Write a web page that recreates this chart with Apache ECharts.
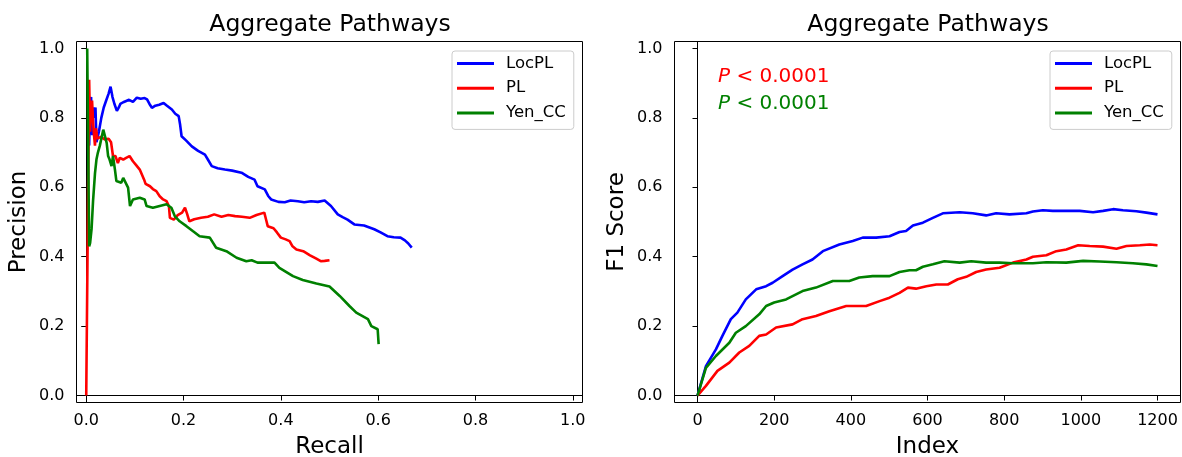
<!DOCTYPE html>
<html>
<head>
<meta charset="utf-8">
<script src="https://cdn.jsdelivr.net/npm/echarts@6/dist/echarts.min.js"></script>
<style>
  html, body { margin: 0; padding: 0; background: #ffffff; }
  #chart { width: 1182px; height: 457px; }
</style>
</head>
<body>
<div id="chart"></div>
<script>
// Series names and colours shared by both panels
const seriesNames = ['LocPL', 'PL', 'Yen_CC'];
const seriesColors = ['#0000ff', '#ff0000', '#008000'];

// Panel titles and axis names
const panelTitle = 'Aggregate Pathways';
const leftXName = 'Recall';
const leftYName = 'Precision';
const rightXName = 'Index';
const rightYName = 'F1 Score';

// Tick values
const recallTicks = [0, 0.2, 0.4, 0.6, 0.8, 1.0];
const scoreTicks = [0, 0.2, 0.4, 0.6, 0.8, 1.0];
const indexTicks = [0, 200, 400, 600, 800, 1000, 1200];

// Significance notes on the F1 panel
const pNotes = ['< 0.0001', '< 0.0001'];

// Precision-recall curves: [recall, precision]
const locplPR = [
  [0.004,0.80],[0.006,0.72],[0.008,0.85],[0.010,0.86],[0.012,0.75],[0.014,0.83],[0.017,0.80],
  [0.019,0.83],[0.021,0.73],[0.026,0.76],[0.031,0.80],[0.036,0.83],[0.041,0.85],[0.046,0.87],
  [0.050,0.89],[0.054,0.86],[0.058,0.84],[0.063,0.82],[0.067,0.83],[0.070,0.84],[0.076,0.845],
  [0.081,0.848],[0.088,0.852],[0.096,0.846],[0.104,0.858],[0.112,0.855],[0.120,0.857],[0.125,0.853],
  [0.130,0.840],[0.135,0.829],[0.142,0.835],[0.150,0.838],[0.159,0.843],[0.166,0.835],[0.176,0.824],
  [0.183,0.812],[0.190,0.805],[0.193,0.780],[0.196,0.747],[0.205,0.735],[0.217,0.718],[0.230,0.705],
  [0.244,0.694],[0.250,0.680],[0.258,0.661],[0.270,0.655],[0.285,0.651],[0.300,0.648],[0.319,0.642],
  [0.333,0.630],[0.346,0.622],[0.352,0.603],[0.367,0.594],[0.374,0.575],[0.380,0.565],[0.395,0.558],
  [0.408,0.557],[0.420,0.562],[0.435,0.560],[0.448,0.557],[0.462,0.560],[0.476,0.558],[0.490,0.562],
  [0.503,0.546],[0.517,0.522],[0.527,0.514],[0.537,0.507],[0.551,0.493],[0.571,0.490],[0.592,0.479],
  [0.605,0.470],[0.619,0.459],[0.632,0.456],[0.646,0.455],[0.655,0.447],[0.662,0.438],[0.669,0.426]
];
const plPR = [
  [0,0],[0.006,0.91],[0.008,0.76],[0.010,0.84],[0.012,0.85],[0.014,0.79],[0.016,0.75],[0.018,0.72],
  [0.020,0.77],[0.023,0.74],[0.030,0.745],[0.038,0.738],[0.046,0.74],[0.051,0.73],[0.055,0.69],
  [0.060,0.69],[0.065,0.67],[0.069,0.685],[0.076,0.68],[0.082,0.685],[0.089,0.69],[0.096,0.675],
  [0.103,0.663],[0.110,0.651],[0.114,0.648],[0.119,0.622],[0.122,0.610],[0.131,0.603],[0.137,0.595],
  [0.144,0.589],[0.151,0.574],[0.158,0.565],[0.165,0.560],[0.170,0.545],[0.172,0.512],[0.180,0.507],
  [0.188,0.520],[0.197,0.527],[0.203,0.541],[0.207,0.525],[0.212,0.502],[0.222,0.508],[0.236,0.512],
  [0.250,0.515],[0.263,0.522],[0.278,0.515],[0.292,0.520],[0.306,0.517],[0.320,0.515],[0.336,0.512],
  [0.350,0.520],[0.366,0.527],[0.370,0.505],[0.373,0.488],[0.385,0.482],[0.392,0.470],[0.400,0.455],
  [0.410,0.450],[0.418,0.445],[0.424,0.430],[0.432,0.421],[0.446,0.416],[0.460,0.404],[0.472,0.395],
  [0.482,0.387],[0.490,0.388],[0.500,0.390]
];
const yenPR = [
  [0.002,1.0],[0.006,0.43],[0.008,0.44],[0.011,0.48],[0.014,0.56],[0.018,0.64],[0.021,0.68],
  [0.024,0.70],[0.028,0.72],[0.031,0.74],[0.035,0.766],[0.038,0.761],[0.042,0.728],[0.045,0.69],
  [0.048,0.68],[0.052,0.661],[0.055,0.69],[0.059,0.651],[0.062,0.618],[0.072,0.613],[0.076,0.627],
  [0.086,0.599],[0.090,0.546],[0.096,0.565],[0.110,0.570],[0.120,0.565],[0.124,0.546],[0.137,0.541],
  [0.151,0.546],[0.165,0.551],[0.175,0.541],[0.182,0.517],[0.192,0.502],[0.206,0.488],[0.219,0.474],
  [0.233,0.459],[0.254,0.455],[0.267,0.426],[0.288,0.416],[0.309,0.397],[0.329,0.387],[0.340,0.390],
  [0.352,0.383],[0.387,0.383],[0.397,0.368],[0.425,0.344],[0.445,0.333],[0.473,0.323],[0.500,0.314],
  [0.521,0.287],[0.541,0.258],[0.555,0.239],[0.579,0.220],[0.586,0.200],[0.599,0.191],[0.601,0.148]
];

// F1 score by index: [index, score]
const locplF1 = [
  [0,0],[22,0.085],[48,0.133],[65,0.172],[87,0.220],[104,0.239],[126,0.277],[153,0.306],[179,0.315],
  [196,0.325],[222,0.344],[248,0.363],[274,0.378],[300,0.392],[327,0.416],[370,0.435],[405,0.445],
  [431,0.455],[466,0.455],[501,0.459],[527,0.471],[544,0.474],[562,0.490],[588,0.498],[614,0.512],
  [640,0.525],[684,0.528],[718,0.525],[753,0.519],[779,0.525],[814,0.522],[858,0.525],[875,0.530],
  [901,0.534],[927,0.532],[962,0.532],[997,0.532],[1032,0.528],[1058,0.532],[1084,0.537],[1110,0.534],
  [1145,0.531],[1171,0.527],[1200,0.522]
];
const plF1 = [
  [0,0],[22,0.028],[52,0.071],[83,0.095],[109,0.124],[135,0.143],[161,0.172],[179,0.176],[205,0.196],
  [248,0.205],[274,0.220],[309,0.229],[344,0.243],[388,0.258],[440,0.258],[475,0.272],[501,0.282],
  [527,0.296],[549,0.311],[570,0.308],[597,0.315],[623,0.320],[653,0.320],[679,0.335],[701,0.342],
  [727,0.356],[753,0.363],[788,0.368],[823,0.383],[858,0.392],[875,0.400],[910,0.404],[936,0.416],
  [962,0.421],[993,0.433],[1023,0.431],[1058,0.429],[1093,0.423],[1119,0.431],[1154,0.433],[1180,0.435],
  [1200,0.433]
];
const yenF1 = [
  [0,0],[22,0.080],[48,0.114],[83,0.152],[100,0.181],[126,0.200],[161,0.234],[179,0.258],[200,0.268],
  [231,0.277],[274,0.301],[309,0.311],[353,0.330],[396,0.330],[422,0.340],[457,0.344],[501,0.344],
  [527,0.356],[553,0.361],[570,0.361],[588,0.371],[614,0.378],[644,0.387],[684,0.383],[714,0.387],
  [753,0.383],[788,0.383],[823,0.381],[875,0.381],[910,0.384],[962,0.383],[1006,0.388],[1049,0.386],
  [1093,0.384],[1136,0.381],[1171,0.378],[1200,0.373]
];

const FONT = 'DejaVu Sans';
const BLACK = '#000000';

function valueAxis(gridIndex, min, max, ticks, fmt, name, isY) {
  return {
    type: 'value', gridIndex, min, max,
    name, nameLocation: 'middle', nameGap: isY ? 46 : 33,
    nameRotate: isY ? 90 : 0,
    nameTextStyle: { fontSize: 23, color: BLACK, fontFamily: FONT },
    axisLine: { show: true, lineStyle: { color: BLACK, width: 1 } },
    axisTick: { show: true, inside: false, length: 5, customValues: ticks, lineStyle: { color: BLACK, width: 1 } },
    axisLabel: { customValues: ticks, formatter: fmt, color: BLACK, fontSize: 16, fontFamily: FONT, margin: isY ? 12 : 10 },
    splitLine: { show: false }
  };
}

function lineSeries(name, color, data, idx) {
  return {
    type: 'line', name, data, xAxisIndex: idx, yAxisIndex: idx,
    showSymbol: false, symbol: 'none',
    color, itemStyle: { color },
    lineStyle: { color, width: 2.6 },
    clip: true, animation: false
  };
}

function legendAt(left) {
  return {
    data: seriesNames, orient: 'vertical', left, top: 51,
    icon: 'rect', itemWidth: 37, itemHeight: 3, itemGap: 7.7,
    padding: [4, 8, 8, 5],
    backgroundColor: '#ffffff', borderColor: '#cccccc', borderWidth: 1, borderRadius: 3,
    textStyle: { fontSize: 16.5, color: BLACK, fontFamily: FONT, lineHeight: 17, padding: [0, 0, 0, 7] },
    selectedMode: false
  };
}

function pNote(y, color, text) {
  return {
    type: 'text', x: 718, y,
    style: {
      text: '{i|P} ' + text,
      fill: color, fontSize: 20, fontFamily: FONT, verticalAlign: 'middle',
      rich: { i: { fontStyle: 'italic', fill: color, fontSize: 20, fontFamily: FONT } }
    }
  };
}

function gridAt(left) {
  return {
    left, top: 41.5, width: 506, height: 361,
    outerBoundsMode: 'none', containLabel: false,
    show: true, borderColor: BLACK, borderWidth: 1, backgroundColor: 'transparent'
  };
}

function titleAt(center) {
  return {
    text: panelTitle, left: center, top: 12.5, textAlign: 'center', padding: 0,
    textStyle: { fontSize: 23.5, fontWeight: 'normal', color: BLACK, fontFamily: FONT }
  };
}

const fmt1 = v => v.toFixed(1);
const fmt0 = v => String(Math.round(v));

const chart = echarts.init(document.getElementById('chart'), null, { renderer: 'canvas' });
chart.setOption({
  animation: false,
  backgroundColor: '#ffffff',
  textStyle: { fontFamily: FONT },
  title: [titleAt(330), titleAt(928)],
  grid: [gridAt(76.5), gridAt(674.5)],
  xAxis: [
    valueAxis(0, -0.02, 1.02, recallTicks, fmt1, leftXName, false),
    valueAxis(1, -60, 1260, indexTicks, fmt0, rightXName, false)
  ],
  yAxis: [
    valueAxis(0, -0.02, 1.02, scoreTicks, fmt1, leftYName, true),
    valueAxis(1, -0.02, 1.02, scoreTicks, fmt1, rightYName, true)
  ],
  legend: [legendAt(452), legendAt(1050)],
  graphic: [
    pNote(77, '#ff0000', pNotes[0]),
    pNote(103.5, '#008000', pNotes[1])
  ],
  series: [
    lineSeries(seriesNames[0], seriesColors[0], locplPR, 0),
    lineSeries(seriesNames[1], seriesColors[1], plPR, 0),
    lineSeries(seriesNames[2], seriesColors[2], yenPR, 0),
    lineSeries(seriesNames[0], seriesColors[0], locplF1, 1),
    lineSeries(seriesNames[1], seriesColors[1], plF1, 1),
    lineSeries(seriesNames[2], seriesColors[2], yenF1, 1)
  ]
});
</script>
</body>
</html>
